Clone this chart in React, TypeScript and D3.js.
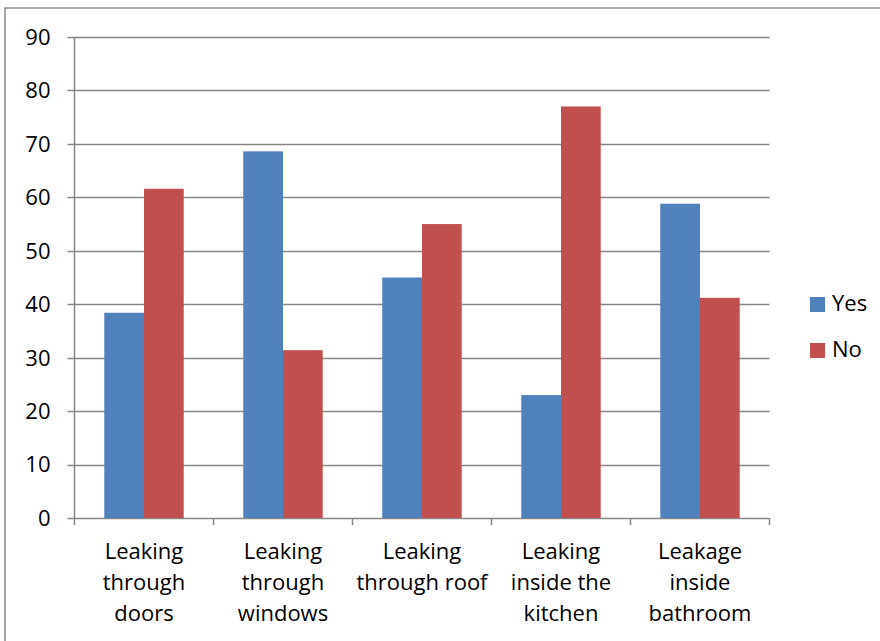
import React from "react";
import * as d3 from "d3";

const categories: string[][] = [
  ["Leaking", "through", "doors"],
  ["Leaking", "through", "windows"],
  ["Leaking", "through roof"],
  ["Leaking", "inside the", "kitchen"],
  ["Leakage", "inside", "bathroom"],
];
const seriesNames = ["Yes", "No"];
const yesValues = [38.4, 68.6, 45.0, 23.0, 58.8];
const noValues = [61.6, 31.4, 55.0, 77.0, 41.2];
const yTicks = [0, 10, 20, 30, 40, 50, 60, 70, 80, 90];

const colors = ["#4F81BD", "#C0504D"];
const W = 880;
const H = 641;
const plot = { left: 74.5, right: 769.5, top: 37, bottom: 518 };
const font = "'Open Sans', 'Noto Sans', sans-serif";
const fontSize = 22;

export default function App() {
  const x = d3
    .scaleBand<number>()
    .domain(d3.range(categories.length))
    .range([plot.left, plot.right]);
  const y = d3.scaleLinear().domain([0, 90]).range([plot.bottom, plot.top]);
  // 150% gap width: each group holds two bars plus 1.5 bar widths of gap
  const barW = x.bandwidth() / 3.5;
  const series = [yesValues, noValues];
  const grid = "#868686";

  return (
    <div style={{ position: "fixed", left: 0, top: 0 }}>
      <svg width={W} height={H} style={{ display: "block", background: "#fff" }}>
        <rect x={5} y={8} width={W} height={H} fill="#fff" stroke="#8c8c8c" strokeWidth={1.5} />
        {yTicks.map((t) => (
          <g key={t}>
            <line
              x1={plot.left - 7}
              x2={plot.right}
              y1={Math.round(y(t)) + 0.5}
              y2={Math.round(y(t)) + 0.5}
              stroke={grid}
              strokeWidth={1.5}
            />
            <text
              x={plot.left - 24}
              y={y(t)}
              dy="0.36em"
              textAnchor="end"
              fontFamily={font}
              fontSize={fontSize}
              fill="#000"
            >
              {t}
            </text>
          </g>
        ))}
        {series.map((vals, s) =>
          vals.map((v, i) => {
            const cx = (x(i) as number) + x.bandwidth() / 2;
            const bx = cx - barW + s * barW;
            return (
              <rect
                key={`${s}-${i}`}
                x={bx}
                y={y(v)}
                width={barW}
                height={y(0) - y(v)}
                fill={colors[s]}
              />
            );
          })
        )}
        <line x1={plot.left} x2={plot.left} y1={plot.top} y2={plot.bottom} stroke={grid} strokeWidth={1.5} />
        {d3.range(categories.length + 1).map((i) => {
          const xx = plot.left + i * x.step();
          return (
            <line key={i} x1={xx} x2={xx} y1={plot.bottom} y2={plot.bottom + 7} stroke={grid} strokeWidth={1.5} />
          );
        })}
        {categories.map((lines, i) => (
          <text
            key={i}
            textAnchor="middle"
            fontFamily={font}
            fontSize={fontSize}
            fill="#000"
          >
            {lines.map((ln, j) => (
              <tspan key={j} x={(x(i) as number) + x.bandwidth() / 2} y={559 + j * 31}>
                {ln}
              </tspan>
            ))}
          </text>
        ))}
        {seriesNames.map((n, s) => (
          <g key={n} transform={`translate(810, ${297 + s * 46})`}>
            <rect width={15} height={15} fill={colors[s]} />
            <text x={22} y={14} fontFamily={font} fontSize={fontSize} fill="#000">
              {n}
            </text>
          </g>
        ))}
      </svg>
    </div>
  );
}
